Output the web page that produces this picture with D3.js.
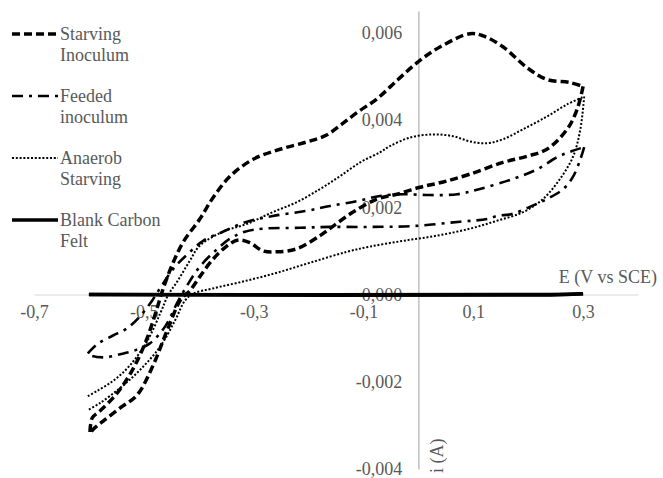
<!DOCTYPE html>
<html>
<head>
<meta charset="utf-8">
<script src="https://cdn.jsdelivr.net/npm/d3@7"></script>
<style>
  body { margin: 0; background: #fff; }
</style>
</head>
<body>
<svg id="chart" width="663" height="478"></svg>
<script>
// E (V vs SCE), i (A), one array per scan direction
const starvingFwd = [
  [-0.598, -0.00315], [-0.594, -0.00283], [-0.580, -0.00267], [-0.556, -0.00237],
  [-0.538, -0.00208], [-0.516, -0.00162], [-0.494, -0.00100], [-0.476, -0.00032],
  [-0.467, 0.00005], [-0.449, 0.00066], [-0.428, 0.00121], [-0.398, 0.00173],
  [-0.374, 0.00222], [-0.343, 0.00271], [-0.301, 0.00310], [-0.252, 0.00333],
  [-0.203, 0.00350], [-0.168, 0.00365], [-0.140, 0.00390], [-0.112, 0.00417],
  [-0.075, 0.00449], [-0.037, 0.00493], [0.000, 0.00534], [0.040, 0.00568],
  [0.094, 0.00598], [0.118, 0.00593], [0.154, 0.00568], [0.198, 0.00520],
  [0.234, 0.00493], [0.276, 0.00486], [0.300, 0.00477]
];
const starvingRev = [
  [0.300, 0.00477], [0.289, 0.00424], [0.271, 0.00379], [0.234, 0.00333],
  [0.198, 0.00317], [0.154, 0.00303], [0.094, 0.00276], [0.045, 0.00258],
  [0.003, 0.00246], [-0.039, 0.00230], [-0.075, 0.00219], [-0.119, 0.00189],
  [-0.155, 0.00157], [-0.179, 0.00135], [-0.221, 0.00105], [-0.257, 0.00098],
  [-0.283, 0.00100], [-0.307, 0.00119], [-0.328, 0.00125], [-0.350, 0.00110],
  [-0.376, 0.00078], [-0.398, 0.00041], [-0.416, 0.00009], [-0.432, -0.00010],
  [-0.458, -0.00084], [-0.483, -0.00162], [-0.512, -0.00230], [-0.543, -0.00260],
  [-0.574, -0.00290], [-0.593, -0.00310], [-0.598, -0.00319]
];
const feededFwd = [
  [-0.602, -0.00135], [-0.583, -0.00112], [-0.556, -0.00094], [-0.531, -0.00078],
  [-0.507, -0.00050], [-0.485, -0.00014], [-0.465, 0.00025], [-0.443, 0.00064],
  [-0.419, 0.00094], [-0.392, 0.00123], [-0.356, 0.00144], [-0.312, 0.00167],
  [-0.265, 0.00180], [-0.203, 0.00192], [-0.161, 0.00203], [-0.112, 0.00214],
  [-0.070, 0.00226], [-0.028, 0.00230], [0.021, 0.00228], [0.071, 0.00230],
  [0.112, 0.00242], [0.172, 0.00265], [0.216, 0.00287], [0.253, 0.00315],
  [0.280, 0.00329], [0.302, 0.00338]
];
const feededRev = [
  [0.302, 0.00338], [0.295, 0.00310], [0.282, 0.00271], [0.264, 0.00242],
  [0.234, 0.00219], [0.203, 0.00201], [0.172, 0.00185], [0.143, 0.00180],
  [0.125, 0.00173], [0.076, 0.00167], [-0.010, 0.00157], [-0.088, 0.00155],
  [-0.161, 0.00155], [-0.215, 0.00153], [-0.283, 0.00151], [-0.316, 0.00144],
  [-0.343, 0.00128], [-0.370, 0.00100], [-0.398, 0.00064], [-0.421, 0.00021],
  [-0.440, -0.00021], [-0.461, -0.00073], [-0.489, -0.00112], [-0.516, -0.00128],
  [-0.543, -0.00137], [-0.571, -0.00144], [-0.594, -0.00141], [-0.602, -0.00135]
];
const anaerobFwd = [
  [-0.602, -0.00233], [-0.585, -0.00221], [-0.556, -0.00198], [-0.525, -0.00162],
  [-0.494, -0.00107], [-0.470, -0.00043], [-0.456, -0.00002], [-0.438, 0.00032],
  [-0.416, 0.00078], [-0.398, 0.00112], [-0.356, 0.00144], [-0.312, 0.00162],
  [-0.265, 0.00189], [-0.221, 0.00212], [-0.179, 0.00242], [-0.143, 0.00271],
  [-0.106, 0.00303], [-0.070, 0.00326], [-0.052, 0.00340], [-0.015, 0.00360],
  [0.027, 0.00367], [0.063, 0.00363], [0.094, 0.00351], [0.125, 0.00347],
  [0.154, 0.00356], [0.191, 0.00379], [0.234, 0.00408], [0.271, 0.00436],
  [0.302, 0.00454]
];
const anaerobRev = [
  [0.302, 0.00454], [0.295, 0.00379], [0.282, 0.00317], [0.258, 0.00265],
  [0.227, 0.00219], [0.191, 0.00189], [0.143, 0.00169], [0.094, 0.00151],
  [0.034, 0.00135], [-0.028, 0.00123], [-0.088, 0.00110], [-0.130, 0.00098],
  [-0.192, 0.00075], [-0.252, 0.00052], [-0.312, 0.00032], [-0.374, 0.00014],
  [-0.410, 0.00002], [-0.425, -0.00014], [-0.443, -0.00059], [-0.470, -0.00119],
  [-0.507, -0.00173], [-0.543, -0.00214], [-0.580, -0.00249], [-0.602, -0.00265]
];
const blankFwd = [[-0.600, 0], [0.240, 0], [0.300, 0.00002]];
const blankRev = [[0.300, 0.00002], [0.240, -0.00001], [-0.600, 0]];

const seriesNames = [["Starving", "Inoculum"], ["Feeded", "inoculum"], ["Anaerob", "Starving"], ["Blank Carbon", "Felt"]];
const xTicks = [-0.7, -0.5, -0.3, -0.1, 0.1, 0.3];
const yTicks = [-0.004, -0.002, 0, 0.002, 0.004, 0.006];

const FONT = '"Liberation Serif", Tinos, "Times New Roman", "DejaVu Serif", serif';
const TEXT_COLOR = "#595959";

const styles = [
  { width: 3.5, dash: "8,4" },
  { width: 2.6, dash: "11,6,3,6" },
  { width: 2, dash: "2,1.8" },
  { width: 3.5, dash: null }
];
const series = [
  [starvingFwd, starvingRev],
  [feededFwd, feededRev],
  [anaerobFwd, anaerobRev],
  [blankFwd, blankRev]
];

const svg = d3.select("#chart");
const x = d3.scaleLinear().domain([-0.7, 0.4]).range([34, 638]);
const y = d3.scaleLinear().domain([-0.004, 0.0065]).range([469, 11]);

const comma = f => v => d3.format(f)(v).replace(".", ",").replace("−", "-");

// axes (labels first so the curves sit over them, like the original)
const xAxis = svg.append("g")
  .attr("transform", `translate(0,${y(0)})`)
  .call(d3.axisBottom(x).tickValues(xTicks).tickFormat(comma(".1f")).tickSize(0).tickPadding(11));
const yAxis = svg.append("g")
  .attr("transform", `translate(${x(0)},0)`)
  .call(d3.axisLeft(y).tickValues(yTicks).tickFormat(comma(".3f")).tickSize(0).tickPadding(16));

[xAxis, yAxis].forEach(g => {
  g.attr("font-family", FONT).attr("font-size", 18);
  g.selectAll("text").attr("fill", TEXT_COLOR);
});
xAxis.select(".domain").attr("stroke", "#d9d9d9").attr("stroke-width", 1.2);
yAxis.select(".domain").attr("stroke", "#bfbfbf").attr("stroke-width", 1.5);

svg.append("text")
  .attr("x", 657).attr("y", 283)
  .attr("text-anchor", "end")
  .attr("font-family", FONT).attr("font-size", 18).attr("fill", TEXT_COLOR)
  .text("E (V vs SCE)");
svg.append("text")
  .attr("transform", `translate(443,473) rotate(-90)`)
  .attr("font-family", FONT).attr("font-size", 18).attr("fill", TEXT_COLOR)
  .text("i (A)");

const line = d3.line()
  .x(d => x(d[0]))
  .y(d => y(d[1]))
  .curve(d3.curveCatmullRom.alpha(0.5));

const plot = svg.append("g");
series.forEach((branches, k) => {
  const st = styles[k];
  branches.forEach(b => {
    plot.append("path")
      .attr("d", line(b))
      .attr("fill", "none")
      .attr("stroke", "#000")
      .attr("stroke-width", st.width)
      .attr("stroke-dasharray", st.dash)
      .attr("stroke-linejoin", "round");
  });
});

// legend
const legend = svg.append("g")
  .attr("font-family", FONT).attr("font-size", 18).attr("fill", TEXT_COLOR);
seriesNames.forEach((name, k) => {
  const st = styles[k];
  const cy = 34 + k * 62;
  legend.append("line")
    .attr("x1", 12).attr("x2", 58)
    .attr("y1", cy).attr("y2", cy)
    .attr("stroke", "#000")
    .attr("stroke-width", st.width)
    .attr("stroke-dasharray", st.dash);
  const t = legend.append("text")
    .attr("x", 60).attr("y", cy + 6);
  t.append("tspan").attr("x", 60).text(name[0]);
  t.append("tspan").attr("x", 60).attr("dy", 21).text(name[1]);
});
</script>
</body>
</html>
